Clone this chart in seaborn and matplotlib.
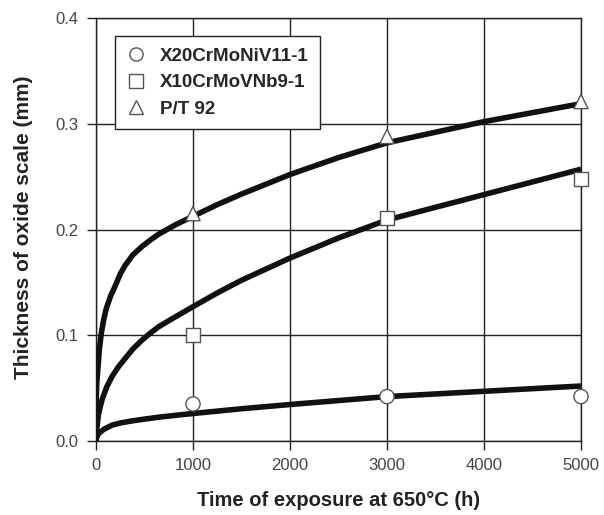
import matplotlib
matplotlib.use("Agg")
import matplotlib.pyplot as plt
from matplotlib.lines import Line2D
import seaborn as sns
import pandas as pd

# Measured oxide scale thickness (mm) after exposure at 650 °C
steels = ["X20CrMoNiV11-1", "X10CrMoVNb9-1", "P/T 92"]
markers = ["o", "s", "^"]
meas_hours = [1000, 3000, 5000]
meas_x20 = [0.035, 0.042, 0.042]
meas_x10 = [0.100, 0.211, 0.248]
meas_p92 = [0.215, 0.288, 0.321]

# Growth curves through the measurements
curve_hours_x20 = [0, 5, 27, 80, 165, 260, 370, 500, 645, 820, 1000, 1500, 2000,
                   3000, 4000, 5000]
curve_x20 = [0.0, 0.003, 0.007, 0.011, 0.015, 0.0172, 0.019, 0.0207, 0.0225,
             0.0243, 0.026, 0.0305, 0.0345, 0.042, 0.047, 0.052]
curve_hours_x10 = [0, 3, 10, 27, 62, 110, 165, 230, 300, 380, 475, 560, 645, 820,
                   1000, 1250, 1500, 2000, 2500, 3000, 4000, 5000]
curve_x10 = [0.0, 0.007, 0.0135, 0.026, 0.039, 0.051, 0.061, 0.070, 0.078, 0.087,
             0.0955, 0.102, 0.108, 0.1175, 0.127, 0.140, 0.152, 0.173, 0.192,
             0.209, 0.233, 0.257]
curve_hours_p92 = [0, 1, 2, 8, 21, 35, 55, 80, 105, 150, 200, 250, 300, 380, 475,
                   560, 645, 820, 1000, 1250, 1500, 2000, 2500, 3000, 4000, 5000]
curve_p92 = [0.0, 0.025, 0.039, 0.055, 0.070, 0.087, 0.102, 0.115, 0.125, 0.137,
             0.147, 0.158, 0.166, 0.176, 0.184, 0.190, 0.1955, 0.2045, 0.2125,
             0.2235, 0.2335, 0.252, 0.268, 0.282, 0.302, 0.319]

x_ticks = [0, 1000, 2000, 3000, 4000, 5000]
y_ticks = [0.0, 0.1, 0.2, 0.3, 0.4]

meas = pd.DataFrame({
    "hours": meas_hours * 3,
    "thickness": meas_x20 + meas_x10 + meas_p92,
    "steel": [s for s in steels for _ in meas_hours],
})
curves = pd.concat([
    pd.DataFrame({"hours": curve_hours_x20, "thickness": curve_x20, "steel": steels[0]}),
    pd.DataFrame({"hours": curve_hours_x10, "thickness": curve_x10, "steel": steels[1]}),
    pd.DataFrame({"hours": curve_hours_p92, "thickness": curve_p92, "steel": steels[2]}),
], ignore_index=True)

sns.set_theme(style="ticks")
plt.rcParams["font.family"] = ["Liberation Sans", "DejaVu Sans"]

fig = plt.figure(figsize=(6.04, 5.15), dpi=100)
ax = fig.add_axes([96 / 604, 1 - 441 / 515, 485 / 604, 423 / 515])

sns.lineplot(data=curves, x="hours", y="thickness", units="steel", estimator=None,
             color="#111111", linewidth=4.0, sort=False, legend=False, ax=ax, zorder=3,
             solid_capstyle="butt", solid_joinstyle="round")
sns.scatterplot(data=meas, x="hours", y="thickness", style="steel", style_order=steels,
                markers=dict(zip(steels, markers)), s=105, color="white",
                edgecolor="#555555", linewidth=1.0, ax=ax, zorder=4, legend=False,
                clip_on=False)

ax.set_xlim(0, 5000)
ax.set_ylim(0, 0.4)
ax.set_xticks(x_ticks)
ax.set_yticks(y_ticks)
ax.set_yticklabels([f"{v:.1f}" for v in y_ticks])
ax.grid(True, color="#222222", linewidth=1.0)
ax.set_axisbelow(True)
for sp in ax.spines.values():
    sp.set_color("#222222")
    sp.set_linewidth(1.0)
ax.tick_params(axis="both", direction="out", length=6.5, width=1.0, color="#222222",
               labelsize=12, labelcolor="#444444", pad=6)

ax.set_xlabel("Time of exposure at 650°C (h)", fontsize=14.5, fontweight="bold",
              color="#222222", labelpad=13)
ax.set_ylabel("Thickness of oxide scale (mm)", fontsize=15, fontweight="bold",
              color="#222222")
ax.yaxis.set_label_coords(-0.130, 0.505)

# Legend with marker symbols only
handles = [Line2D([], [], marker=m, linestyle="none", markersize=9.5,
                  markerfacecolor="white", markeredgecolor="#555555", markeredgewidth=1.0)
           for m in markers]
leg = ax.legend(handles, steels, loc="upper left", bbox_to_anchor=(0.039, 0.957),
                borderaxespad=0, frameon=True, fancybox=False, framealpha=1,
                edgecolor="#222222", prop={"weight": "bold", "size": 13.5},
                handlelength=1.0, handletextpad=0.8, labelspacing=0.5,
                borderpad=0.6)
leg.get_frame().set_linewidth(1.0)
leg.set_zorder(5)

fig.savefig("out.png", dpi=100)
